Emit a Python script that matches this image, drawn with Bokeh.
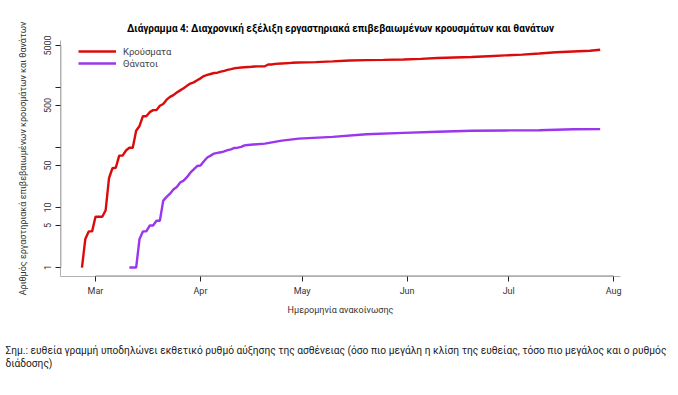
import pandas as pd
from bokeh.plotting import figure
from bokeh.models import Range1d, FixedTicker, Legend, LegendItem, Title
from bokeh.embed import file_html
from bokeh.resources import INLINE

# ---------------- data ----------------
case_dates = ["2020-02-26", "2020-02-27", "2020-02-28", "2020-02-29", "2020-03-01", "2020-03-02",
              "2020-03-03", "2020-03-04", "2020-03-05", "2020-03-06", "2020-03-07", "2020-03-08",
              "2020-03-09", "2020-03-10", "2020-03-11", "2020-03-12", "2020-03-13", "2020-03-14",
              "2020-03-15", "2020-03-16", "2020-03-17", "2020-03-18", "2020-03-19", "2020-03-20",
              "2020-03-21", "2020-03-22", "2020-03-23", "2020-03-24", "2020-03-25", "2020-03-26",
              "2020-03-27", "2020-03-28", "2020-03-29", "2020-03-30", "2020-03-31", "2020-04-01",
              "2020-04-02", "2020-04-03", "2020-04-04", "2020-04-05", "2020-04-06", "2020-04-07",
              "2020-04-08", "2020-04-09", "2020-04-10", "2020-04-11", "2020-04-12", "2020-04-13",
              "2020-04-14", "2020-04-15", "2020-04-16", "2020-04-17", "2020-04-18", "2020-04-20",
              "2020-04-21", "2020-04-22", "2020-04-23", "2020-04-25", "2020-04-28", "2020-04-30",
              "2020-05-05", "2020-05-10", "2020-05-15", "2020-05-20", "2020-05-25", "2020-05-31",
              "2020-06-05", "2020-06-10", "2020-06-15", "2020-06-20", "2020-06-25", "2020-06-30",
              "2020-07-05", "2020-07-10", "2020-07-15", "2020-07-20", "2020-07-25", "2020-07-28"]
case_values = [1, 3, 4, 4, 7, 7,
               7, 9, 31, 45, 46, 73,
               73, 89, 99, 99, 190, 228,
               331, 331, 387, 418, 418, 495,
               530, 624, 695, 743, 821, 892,
               966, 1061, 1156, 1212, 1314, 1415,
               1544, 1613, 1673, 1735, 1755, 1832,
               1884, 1955, 2011, 2081, 2114, 2145,
               2170, 2192, 2207, 2224, 2235, 2245,
               2401, 2408, 2463, 2506, 2566, 2591,
               2632, 2716, 2810, 2850, 2878, 2917,
               2980, 3083, 3148, 3203, 3302, 3409,
               3519, 3672, 3852, 3964, 4077, 4227]

death_dates = ["2020-03-11", "2020-03-13", "2020-03-14", "2020-03-15", "2020-03-16", "2020-03-17",
               "2020-03-18", "2020-03-19", "2020-03-20", "2020-03-21", "2020-03-22", "2020-03-23",
               "2020-03-24", "2020-03-25", "2020-03-26", "2020-03-27", "2020-03-28", "2020-03-29",
               "2020-03-30", "2020-03-31", "2020-04-01", "2020-04-02", "2020-04-03", "2020-04-04",
               "2020-04-05", "2020-04-06", "2020-04-07", "2020-04-08", "2020-04-09", "2020-04-10",
               "2020-04-11", "2020-04-12", "2020-04-13", "2020-04-14", "2020-04-15", "2020-04-20",
               "2020-04-25", "2020-04-30", "2020-05-10", "2020-05-20", "2020-05-31", "2020-06-10",
               "2020-06-20", "2020-06-30", "2020-07-10", "2020-07-20", "2020-07-28"]
death_values = [1, 1, 3, 4, 4, 5,
                5, 6, 6, 13, 15, 17,
                20, 22, 26, 28, 32, 38,
                43, 49, 50, 59, 68, 73,
                79, 81, 83, 86, 90, 93,
                98, 99, 102, 108, 110, 116,
                130, 140, 150, 166, 175, 183,
                190, 192, 193, 201, 202]

month_ticks = ["2020-03-01", "2020-04-01", "2020-05-01", "2020-06-01", "2020-07-01", "2020-08-01"]
month_labels = ["Mar", "Apr", "May", "Jun", "Jul", "Aug"]
y_ticks = [1, 5, 10, 50, 100, 500, 1000, 5000]
y_tick_labels = ["1", "5", "10", "50", "", "500", "", "5000"]

series_names = ["Κρούσματα", "Θάνατοι"]
title_text = "Διάγραμμα 4: Διαχρονική εξέλιξη εργαστηριακά επιβεβαιωμένων κρουσμάτων και θανάτων"
x_label = "Ημερομηνία ανακοίνωσης"
y_label = "Αριθμός εργαστηριακά επιβεβαιωμένων κρουσμάτων και θανάτων"
note_lines = ["Σημ.: ευθεία γραμμή υποδηλώνει εκθετικό ρυθμό αύξησης της ασθένειας (όσο πιο μεγάλη η κλίση της ευθείας, τόσο πιο μεγάλος και ο ρυθμός",
              "διάδοσης)"]

# ---------------- figure ----------------
def ms(d):
    return pd.Timestamp(d).value // 10**6

FONT = "Roboto"
RED = "#dc0b0b"
PURPLE = "#9a36ee"

p = figure(width=670, height=395, output_backend="svg", toolbar_location=None,
           x_axis_type="datetime", y_axis_type="log",
           x_range=Range1d(pd.Timestamp("2020-02-19 16:00"), pd.Timestamp("2020-08-03 00:00")),
           y_range=Range1d(0.709, 6040),
           min_border_left=60, min_border_right=50, min_border_top=40, min_border_bottom=118)
p.outline_line_color = None
p.xgrid.visible = False
p.ygrid.visible = False
p.background_fill_color = "white"
p.border_fill_color = "white"

r1 = p.line(pd.to_datetime(case_dates), case_values, line_color=RED, line_width=2.4)
r2 = p.line(pd.to_datetime(death_dates), death_values, line_color=PURPLE, line_width=2.4)

# axes
xt = [ms(d) for d in month_ticks]
p.xaxis.ticker = FixedTicker(ticks=xt)
p.xaxis.major_label_overrides = dict(zip(xt, month_labels))
p.yaxis.ticker = FixedTicker(ticks=y_ticks)
p.yaxis.major_label_overrides = dict(zip(y_ticks, y_tick_labels))
for ax in (p.xaxis, p.yaxis):
    ax.axis_line_color = "#b0b0b0"
    ax.axis_line_width = 1
    ax.major_tick_line_color = "#222222"
    ax.major_tick_out = 5
    ax.major_tick_in = 0
    ax.minor_tick_line_color = None
    ax.major_label_text_font = FONT
    ax.major_label_text_font_size = "9px"
    ax.major_label_text_color = "#333333"
    ax.axis_label_text_font = FONT
    ax.axis_label_text_font_size = "9px"
    ax.axis_label_text_font_style = "normal"
    ax.axis_label_text_color = "#333333"
p.yaxis.major_label_orientation = "vertical"
p.yaxis.major_label_standoff = 4
p.yaxis.axis_label = y_label
p.yaxis.axis_label_standoff = 14
p.xaxis.major_label_standoff = 4
p.xaxis.axis_label = x_label
p.xaxis.axis_label_standoff = 6

# black axis lines spanning the tick range (as in R)
p.segment(x0=[pd.Timestamp(month_ticks[0])], x1=[pd.Timestamp(month_ticks[-1])],
          y0=[p.y_range.start], y1=[p.y_range.start], line_color="black", line_width=1.3)
p.segment(x0=[p.x_range.start], x1=[p.x_range.start],
          y0=[y_ticks[0]], y1=[y_ticks[-1]], line_color="black", line_width=1.3)

legend = Legend(items=[LegendItem(label=series_names[0], renderers=[r1]),
                       LegendItem(label=series_names[1], renderers=[r2])],
                location=(18, 207), margin=0, padding=2, spacing=0,
                glyph_width=38, glyph_height=12, label_height=12, label_standoff=7,
                label_text_font=FONT, label_text_font_size="9.5px", label_text_color="#444444",
                border_line_color=None, background_fill_alpha=0)
p.add_layout(legend)

p.title.text = title_text
p.title.align = "center"
p.title.offset = -1
p.title.standoff = 14
p.title.text_font = FONT
p.title.text_font_size = "10px"
p.title.text_font_style = "bold"
p.title.text_color = "black"

note = Title(text="\n".join(note_lines), align="left", offset=-55, vertical_align="bottom",
             standoff=52,
             text_font=FONT, text_font_size="10.2px", text_font_style="normal",
             text_color="#222222", text_line_height=1.2)
p.add_layout(note, "below")

open("out.html", "w").write(file_html(p, INLINE))
